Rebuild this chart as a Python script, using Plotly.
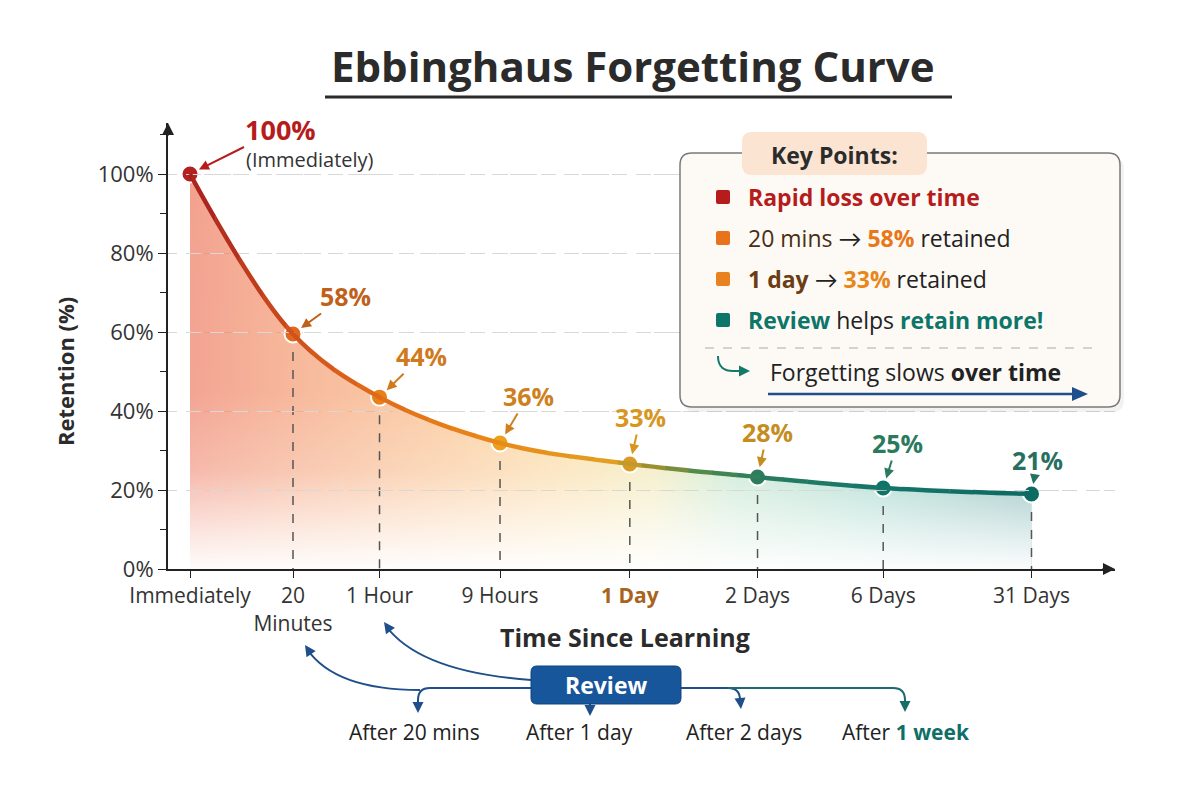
import plotly.graph_objects as go

# data
time_labels = ["Immediately", "20<br>Minutes", "1 Hour", "9 Hours",
               "<b><span style='color:#a8641c'>1 Day</span></b>", "2 Days", "6 Days", "31 Days"]
time_pos = [0, 1.0, 1.84, 3.01, 4.27, 5.51, 6.73, 8.17]
retention = [100, 59.5, 43.5, 31.9, 26.6, 23.3, 20.5, 19.0]
retention_labels = ["100%", "58%", "44%", "36%", "33%", "28%", "25%", "21%"]
y_ticks = [0, 20, 40, 60, 80, 100]
y_tick_labels = ["0%", "20%", "40%", "60%", "80%", "100%"]
review_labels = ["After 20 mins", "After 1 day", "After 2 days",
                 "After <b><span style='color:#0e6f66'>1 week</span></b>"]
key_points = [
    "<b><span style='color:#b71c1c'>Rapid loss over time</span></b>",
    "<span style='color:#4a2e15'>20 mins</span> → <b><span style='color:#e8771a'>58%</span></b> retained",
    "<b><span style='color:#6b3d12'>1 day</span></b> → <b><span style='color:#e8861a'>33%</span></b> retained",
    "<b><span style='color:#0e7569'>Review</span></b> helps <b><span style='color:#0e7569'>retain more!</span></b>",
]
key_colors = ["#b71c1c", "#e8731c", "#e8821e", "#0e7569"]

FONT = "Open Sans, Lato, DejaVu Sans, sans-serif"
DARK = "#2b2b2b"

marker_colors = ["#b32020", "#e0671c", "#e8801a", "#eba01e", "#d99a26", "#2e7c5e", "#0f7468", "#0d6b64"]
label_colors = ["#b71c1c", "#c0611a", "#cf7a1c", "#d07f1e", "#d8961e", "#c58d1f", "#2b7a5d", "#27705f"]
label_offsets = [(90, -45), (52, -38), (42, -41), (28, -47), (11, -47), (10, -45), (14, -45), (6, -34)]

# plot area in pixels
L, R, T, B = 168, 1115, 123, 569
PW, PH = R - L, B - T
xmin = time_pos[0] - (190 - L) / 103
xmax = xmin + PW / 103
ymax = PH / 3.95


def P(x, y):
    return (x - L) / PW, (B - y) / PH


def pt(x, y):
    a, b = P(x, y)
    return f"{a:.5f},{b:.5f}"


def rounded_rect(x0, y0, x1, y1, r):
    return (f"M{pt(x0 + r, y0)} L{pt(x1 - r, y0)} Q{pt(x1, y0)} {pt(x1, y0 + r)} "
            f"L{pt(x1, y1 - r)} Q{pt(x1, y1)} {pt(x1 - r, y1)} L{pt(x0 + r, y1)} "
            f"Q{pt(x0, y1)} {pt(x0, y1 - r)} L{pt(x0, y0 + r)} Q{pt(x0, y0)} {pt(x0 + r, y0)} Z")


def hex2rgb(h):
    h = h.lstrip('#')
    return [int(h[i:i + 2], 16) for i in (0, 2, 4)]


def color_at(x, stops):
    if x <= stops[0][0]:
        return stops[0][1]
    for (x0, c0), (x1, c1) in zip(stops[:-1], stops[1:]):
        if x <= x1:
            t = (x - x0) / (x1 - x0)
            a, b = hex2rgb(c0), hex2rgb(c1)
            return "rgb(%d,%d,%d)" % tuple(round(a[i] + (b[i] - a[i]) * t) for i in range(3))
    return stops[-1][1]


line_stops = [(0.0, '#a51d1d'), (1.0, '#cf4f1c'), (1.84, '#e26c18'), (3.01, '#e98a18'),
              (4.1, '#e2a022'), (4.5, '#9a9030'), (5.0, '#4f8a4c'), (5.51, '#2a7c5e'),
              (6.73, '#14756a'), (8.17, '#0e6a64')]

fig = go.Figure()

# gradient area under the curve
fig.add_trace(go.Scatter(
    x=time_pos, y=retention, mode='lines', fill='tozeroy',
    line=dict(width=0, shape='spline'), hoverinfo='skip', showlegend=False,
    fillgradient=dict(type='horizontal', start=time_pos[0], stop=time_pos[-1], colorscale=[
        [0, 'rgba(238,125,100,0.72)'], [0.12, 'rgba(242,140,95,0.64)'],
        [0.30, 'rgba(247,170,100,0.58)'], [0.45, 'rgba(248,200,115,0.55)'],
        [0.55, 'rgba(230,215,125,0.50)'], [0.64, 'rgba(150,210,165,0.50)'],
        [0.80, 'rgba(105,190,170,0.58)'], [1, 'rgba(75,150,150,0.68)']])))
fig.add_trace(go.Scatter(
    x=time_pos, y=retention, mode='lines', fill='tozeroy',
    line=dict(width=0, shape='spline'), hoverinfo='skip', showlegend=False,
    fillgradient=dict(type='vertical', start=0, stop=100, colorscale=[
        [0, 'rgba(255,255,255,0.97)'], [0.10, 'rgba(255,255,255,0.7)'],
        [0.25, 'rgba(255,255,255,0.25)'], [0.45, 'rgba(255,255,255,0.03)'],
        [1, 'rgba(255,255,255,0)']])))

# dashed drop lines
dx, dy = [], []
for xv, yv in zip(time_pos[1:], retention[1:]):
    dx += [xv, xv, None]
    dy += [yv, 0, None]
fig.add_trace(go.Scatter(x=dx, y=dy, mode='lines', line=dict(color='#555', width=1.5, dash='dash'),
                         hoverinfo='skip', showlegend=False))

# the curve, drawn once per thin x-slice so its colour can change along x
n_slices = 40
step = (xmax - xmin) / n_slices
for k in range(n_slices):
    b0 = xmin + k * step
    b1 = b0 + step * 1.02
    d0 = (b0 - xmin) / (xmax - xmin)
    d1 = min(1.0, (b1 - xmin) / (xmax - xmin))
    b1 = xmin + d1 * (xmax - xmin)
    ax_name = f"xaxis{k + 2}"
    fig.update_layout(**{ax_name: dict(domain=[d0, d1], range=[b0, b1], visible=False,
                                       fixedrange=True, anchor='y')})
    fig.add_trace(go.Scatter(
        x=time_pos, y=retention, mode='lines', xaxis=f"x{k + 2}", yaxis='y',
        line=dict(color=color_at(b0 + step / 2, line_stops), width=4.5, shape='spline'),
        hoverinfo='skip', showlegend=False))

fig.add_trace(go.Scatter(
    x=time_pos, y=retention, mode='markers', cliponaxis=False, showlegend=False,
    marker=dict(size=17, color=marker_colors, line=dict(color='white', width=2))))

annotations = []
shapes = []

# value labels
for i, (xv, yv, lab) in enumerate(zip(time_pos, retention, retention_labels)):
    ax, ay = label_offsets[i]
    annotations.append(dict(
        x=xv, y=yv, xref='x', yref='y', text=f"<b>{lab}</b>", showarrow=True,
        ax=ax, ay=ay, arrowhead=2, arrowsize=1, arrowwidth=2, arrowcolor=label_colors[i],
        standoff=10, borderpad=0,
        font=dict(size=27 if i == 0 else 25, color=label_colors[i], family=FONT)))
annotations.append(dict(x=time_pos[0], y=retention[0], xref='x', yref='y', text="(Immediately)",
                        showarrow=False, xshift=120, yshift=15,
                        font=dict(size=20, color='#333', family=FONT)))

# axis arrowheads
annotations.append(dict(x=0, y=1, xref='paper', yref='paper', ax=0, ay=14, text='', showarrow=True,
                        arrowhead=2, arrowsize=1.2, arrowwidth=2, arrowcolor='#222'))
annotations.append(dict(x=1, y=0, xref='paper', yref='paper', ax=-14, ay=0, text='', showarrow=True,
                        arrowhead=2, arrowsize=1.2, arrowwidth=2, arrowcolor='#222'))


def text_at(x, y, text, size, color=DARK, anchor='center', angle=0):
    a, b = P(x, y)
    annotations.append(dict(x=a, y=b, xref='paper', yref='paper', text=text, showarrow=False,
                            xanchor=anchor, yanchor='middle', textangle=angle,
                            font=dict(size=size, color=color, family=FONT)))


def head(tip, frm, color, size=1.1):
    # short arrow ending at tip, pointing away from frm
    tx, ty = tip
    fx, fy = frm
    n = ((tx - fx) ** 2 + (ty - fy) ** 2) ** 0.5
    a, b = P(tx, ty)
    annotations.append(dict(x=a, y=b, xref='paper', yref='paper', text='', showarrow=True,
                            ax=-(tx - fx) / n * 10, ay=-(ty - fy) / n * 10,
                            arrowhead=2, arrowsize=size, arrowwidth=2, arrowcolor=color))


def shape_path(d, fill=None, line_color=None, width=2):
    shapes.append(dict(type='path', xref='paper', yref='paper', path=d, opacity=1, layer='above',
                       fillcolor=fill or 'rgba(0,0,0,0)',
                       line=dict(color=line_color or 'rgba(0,0,0,0)', width=width if line_color else 0)))


def curve(d, color, width=2):
    shape_path(d, None, color, width)


def hline(x0, x1, y, color, width, dash='solid'):
    shapes.append(dict(type='line', xref='paper', yref='paper', x0=P(x0, y)[0], y0=P(x0, y)[1],
                       x1=P(x1, y)[0], y1=P(x1, y)[1], opacity=1, layer='above',
                       line=dict(color=color, width=width, dash=dash)))


# titles
text_at(633, 65, "<b>Ebbinghaus Forgetting Curve</b>", 42)
hline(325, 952, 97, DARK, 3)
text_at(65, 372, "<b>Retention (%)</b>", 22, angle=-90)
text_at(625, 637, "<b>Time Since Learning</b>", 25)

# key points box
shape_path(rounded_rect(683, 157, 1124, 412, 12), fill='rgba(0,0,0,0.05)')
shape_path(rounded_rect(680, 153, 1120, 407, 12), fill='#fdfaf6', line_color='#7a7a7a', width=1.5)
shape_path(rounded_rect(742, 132, 927, 175, 10), fill='#fbe5d2')
text_at(834, 155, "<b>Key Points:</b>", 23)
for i, (txt, col) in enumerate(zip(key_points, key_colors)):
    yc = 197 + i * 41
    shape_path(rounded_rect(716, yc - 7, 730, yc + 7, 2), fill=col)
    text_at(746, yc, txt, 23, color='#222', anchor='left')
hline(705, 1097, 348, '#aaa', 1, 'dash')
curve(f"M{pt(718, 356)} Q{pt(718, 372)} {pt(735, 371)} L{pt(746, 371)}", '#137a6a')
head((750, 371), (740, 371), '#137a6a')
text_at(768, 372, "Forgetting slows <b>over time</b>", 23, color='#222', anchor='left')
curve(f"M{pt(768, 394)} L{pt(1076, 394)}", '#1f4e8c', width=2.5)
shape_path(f"M{pt(1072, 387)} L{pt(1088, 394)} L{pt(1072, 401)} Z", fill='#1f4e8c')

# review diagram
BLUE = '#1f4f8a'
curve(f"M{pt(420, 690)} Q{pt(335, 690)} {pt(307, 649)}", BLUE)
head((305, 645), (335, 690), BLUE)
curve(f"M{pt(531, 680)} Q{pt(420, 672)} {pt(386, 626)}", BLUE)
head((384, 622), (420, 672), BLUE)
curve(f"M{pt(531, 688)} L{pt(430, 688)} Q{pt(418, 688)} {pt(418, 700)} L{pt(418, 706)}", BLUE)
head((418, 713), (418, 700), BLUE)
curve(f"M{pt(590, 703)} L{pt(590, 708)}", BLUE)
head((590, 716), (590, 705), BLUE)
curve(f"M{pt(681, 688)} L{pt(728, 688)} Q{pt(740, 688)} {pt(740, 700)} L{pt(740, 702)}", BLUE)
head((741, 709), (740, 698), BLUE)
curve(f"M{pt(728, 688)} L{pt(893, 688)} Q{pt(905, 688)} {pt(905, 700)} L{pt(905, 704)}", '#1c6a74')
head((905, 712), (905, 700), '#146e6a')
shape_path(rounded_rect(531, 666, 681, 704, 6), fill='#17569b', line_color='#0f447e', width=1)
text_at(606, 685, "<b>Review</b>", 23, color='white')
for xc, lab in zip([414, 579, 744, 906], review_labels):
    text_at(xc, 732, lab, 21, color='#222')

fig.update_layout(
    width=1200, height=800, template='simple_white',
    paper_bgcolor='white', plot_bgcolor='rgba(0,0,0,0)',
    margin=dict(l=L, r=1200 - R, t=T, b=800 - B),
    font=dict(family=FONT, color='#333'),
    annotations=annotations, shapes=shapes, showlegend=False,
    xaxis=dict(range=[xmin, xmax], tickvals=time_pos, ticktext=time_labels,
               showline=True, linecolor='#222', linewidth=2, ticks='outside', ticklen=7,
               tickcolor='#222', tickfont=dict(size=21, color='#333'), showgrid=False,
               zeroline=False, fixedrange=True),
    yaxis=dict(range=[0, ymax], tickvals=y_ticks, ticktext=y_tick_labels, showline=True,
               linecolor='#222', linewidth=2, ticks='outside', ticklen=8, tickcolor='#222',
               tickfont=dict(size=22, color='#333'), showgrid=True, gridcolor='#d8d8d8',
               griddash='dash', gridwidth=1, zeroline=False, fixedrange=True,
               minor=dict(dtick=10, ticks='outside', ticklen=6, tickcolor='#222')),
)

fig.write_html("out.html", config={'displayModeBar': False},
               post_script="document.body.style.margin='0';")
